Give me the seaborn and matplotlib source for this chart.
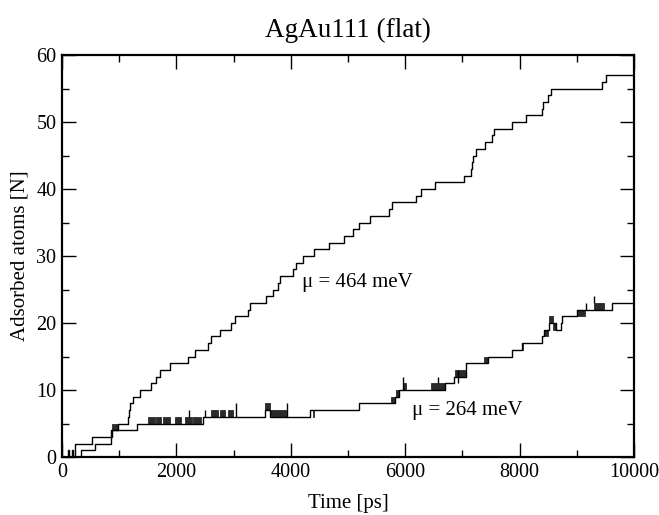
import numpy as np
import pandas as pd
import seaborn as sns
import matplotlib.pyplot as plt

# mu = 464 meV run: time [ps] where the count of adsorbed atoms changes
upper_t = [0, 340, 576, 860, 880, 980, 1158, 1170, 1187, 1245, 1361, 1565, 1652, 1710,
           1885, 2205, 2321, 2554, 2612, 2757, 2961, 3019, 3252, 3281, 3572, 3688,
           3776, 3805, 4037, 4095, 4211, 4415, 4677, 4939, 5084, 5201, 5387, 5724,
           5771, 6190, 6277, 6522, 7021, 7150, 7170, 7190, 7230, 7400, 7516, 7557,
           7866, 8121, 8389, 8410, 8505, 8546, 9447, 9506, 10000]
upper_n = [0, 1, 2, 3, 4, 5, 6, 7, 8, 9, 10, 11, 12, 13,
           14, 15, 16, 17, 18, 19, 20, 21, 22, 23, 24, 25,
           26, 27, 28, 29, 30, 31, 32, 33, 34, 35, 36, 37,
           38, 39, 40, 41, 42, 43, 44, 45, 46, 47, 48, 49,
           50, 51, 52, 53, 54, 55, 56, 57, 57]

# mu = 264 meV run
lower_t = [0, 100, 130, 170, 200, 227, 520, 855, 1314, 2466, 3543, 3642, 3967, 4328,
           5201, 5754, 5829, 5900, 6015, 6700, 6859, 7062, 7440, 7876, 8040, 8389,
           8429, 8517, 8644, 8720, 8749, 9000, 9476, 9622, 10000]
lower_n = [0, 1, 0, 1, 0, 2, 3, 4, 5, 6, 7, 6, 6, 7,
           8, 8, 9, 10, 10, 11, 12, 14, 15, 16, 17, 18,
           19, 20, 19, 20, 21, 22, 22, 23, 23]

# fast adsorption/desorption flicker: start, end, low, high
burst_t0 = [880, 1506, 1652, 1768, 1972, 2147, 2292, 2612, 2757, 2903, 3543, 3642,
            4386, 5754, 5840, 5960, 6452, 6870, 7382, 8040, 8429, 8517, 8586, 9000,
            9302, 9419]
burst_t1 = [980, 1623, 1740, 1885, 2089, 2280, 2438, 2728, 2845, 2990, 3642, 3921,
            4400, 5812, 5890, 6010, 6690, 7062, 7440, 8060, 8500, 8586, 8644, 9145,
            9419, 9476]
burst_lo = [4, 5, 5, 5, 5, 5, 5, 6, 6, 6, 7, 6,
            6, 8, 9, 10, 10, 12, 14, 16, 18, 20, 19, 21,
            22, 22]
burst_hi = [5, 6, 6, 6, 6, 6, 6, 7, 7, 7, 8, 7,
            7, 9, 10, 11, 11, 13, 15, 17, 19, 21, 20, 22,
            23, 23]

# single short spikes: time, from, to
spike_t = [2222, 2496, 3048, 3930, 5957, 6568, 6920, 9157, 9302]
spike_lo = [6, 6, 6, 6, 10, 11, 11, 22, 23]
spike_hi = [7, 7, 8, 8, 12, 12, 13, 23, 24]

sns.set_theme(style='ticks')
plt.rcParams['font.family'] = ['Liberation Serif', 'DejaVu Serif']
plt.rcParams['text.color'] = 'black'
plt.rcParams['axes.labelcolor'] = 'black'

fig = plt.figure(figsize=(6.59, 5.15), dpi=100)
ax = fig.add_axes([0.094, 0.1126, 0.868, 0.7804])

df_up = pd.DataFrame({'t': upper_t, 'n': upper_n})
df_lo = pd.DataFrame({'t': lower_t, 'n': lower_n})
sns.lineplot(data=df_up, x='t', y='n', drawstyle='steps-post', estimator=None, sort=False,
             color='black', linewidth=1.0, ax=ax)
sns.lineplot(data=df_lo, x='t', y='n', drawstyle='steps-post', estimator=None, sort=False,
             color='black', linewidth=1.0, ax=ax)

for t0, t1, lo, hi in zip(burst_t0, burst_t1, burst_lo, burst_hi):
    ax.fill_between([t0, t1], [lo, lo], [hi, hi], color='#2a2a2a', linewidth=0.6,
                    edgecolor='#2a2a2a')
ax.vlines(spike_t, spike_lo, spike_hi, color='black', linewidth=1.0)

ax.text(4188, 26, 'μ = 464 meV', fontsize=15, ha='left', va='center')
ax.text(6126, 7, 'μ = 264 meV', fontsize=15, ha='left', va='center')

ax.set_xlim(0, 10000)
ax.set_ylim(0, 60)
ax.set_xticks(np.arange(0, 10001, 2000))
ax.set_xticks(np.arange(1000, 10000, 2000), minor=True)
ax.set_yticks(np.arange(0, 61, 10))
ax.set_yticks(np.arange(5, 60, 10), minor=True)
ax.tick_params(which='both', direction='in', top=True, right=True, labelsize=14.5,
               width=1.0, color='black', labelcolor='black')
ax.tick_params(which='major', length=10, pad=4)
ax.tick_params(which='minor', length=5)
for s in ax.spines.values():
    s.set_linewidth(1.6)
    s.set_color('black')

ax.set_xlabel('Time [ps]', fontsize=15, labelpad=9)
ax.set_ylabel('Adsorbed atoms [N]', fontsize=15, labelpad=5)
fig.text(0.528, 0.94, 'AgAu111 (flat)', fontsize=19.5, ha='center', va='center')

fig.savefig('out.png', dpi=100)
